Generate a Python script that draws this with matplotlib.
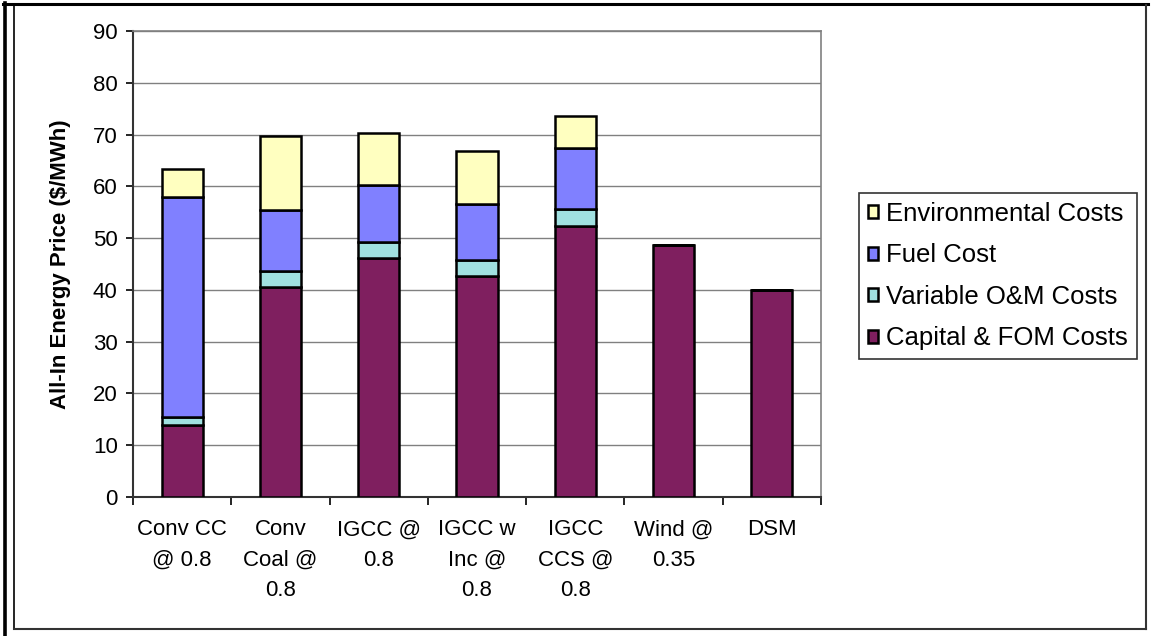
import matplotlib
matplotlib.use("Agg")
import matplotlib.pyplot as plt
from matplotlib.lines import Line2D
import numpy as np

plt.rcParams['font.family'] = ['Liberation Sans', 'DejaVu Sans']

categories = ["Conv CC\n@ 0.8", "Conv\nCoal @\n0.8", "IGCC @\n0.8", "IGCC w\nInc @\n0.8",
              "IGCC\nCCS @\n0.8", "Wind @\n0.35", "DSM"]
capital_fom = [14.0, 40.5, 46.2, 42.6, 52.4, 48.6, 40.0]
variable_om = [1.5, 3.2, 3.1, 3.2, 3.2, 0.0, 0.0]
fuel_cost = [42.5, 11.8, 10.9, 10.8, 11.9, 0.0, 0.0]
environmental = [5.3, 14.2, 10.1, 10.3, 6.0, 0.0, 0.0]

series = [
    ("Capital & FOM Costs", capital_fom, "#7f1f5f"),
    ("Variable O&M Costs", variable_om, "#a0e0e0"),
    ("Fuel Cost", fuel_cost, "#8080ff"),
    ("Environmental Costs", environmental, "#ffffc0"),
]

W, H = 1151, 636
fig = plt.figure(figsize=(W / 100, H / 100), dpi=100)
ax = fig.add_axes([133 / W, 1 - 497 / H, (821 - 133) / W, (497 - 31) / H])

x = np.arange(len(categories))
bottom = np.zeros(len(categories))
handles = []
for name, vals, col in series:
    vals = np.array(vals)
    bars = ax.bar(x, vals, width=0.42, bottom=bottom, color=col,
                  edgecolor="black", linewidth=1.8, label=name, zorder=3)
    handles.append(bars)
    bottom += vals

ax.set_xlim(-0.5, len(categories) - 0.5)
ax.set_ylim(0, 90)
ax.set_yticks(np.arange(0, 91, 10))
ax.tick_params(axis='y', labelsize=16, length=5, width=1.2, direction='out', pad=6)
ax.set_xticks(x)
ax.set_xticklabels(categories, fontsize=16, linespacing=1.6)
ax.tick_params(axis='x', which='major', length=0, pad=16)
ax.set_xticks(np.arange(-0.5, len(categories)), minor=True)
ax.tick_params(axis='x', which='minor', length=6, width=1.2, direction='out')
ax.grid(axis='y', color='#808080', linewidth=1.0, zorder=0)
ax.set_axisbelow(True)

for side in ['top', 'right']:
    ax.spines[side].set_color('#808080')
    ax.spines[side].set_linewidth(1.2)
for side in ['left', 'bottom']:
    ax.spines[side].set_color('#333333')
    ax.spines[side].set_linewidth(1.5)

ax.set_ylabel("All-In Energy Price ($/MWh)", fontsize=16, fontweight='bold', labelpad=16)

leg = fig.legend(handles[::-1], [s[0] for s in series][::-1],
                 loc='upper left', bbox_to_anchor=(859 / W, 1 - 193 / H),
                 borderaxespad=0, fontsize=18.5, frameon=True, fancybox=False,
                 shadow=False, handlelength=0.4, handleheight=0.4,
                 handletextpad=0.3, labelspacing=0.68, borderpad=0.35)
leg.get_frame().set_edgecolor('black')
leg.get_frame().set_linewidth(1.2)

# page cell border and chart area border
def fline(xs, ys, lw, col):
    fig.add_artist(Line2D([v / W for v in xs], [1 - v / H for v in ys],
                          transform=fig.transFigure, color=col, linewidth=lw))

fline([3, 1148], [4, 4], 2.2, 'black')
fline([4.5, 4.5], [3, 636], 2.6, 'black')
fline([13.5, 13.5], [4, 629], 1.2, 'black')
fline([13.5, 1146], [629, 629], 1.5, '#333333')
fline([1146, 1146], [5, 629], 1.5, '#333333')

fig.savefig("out.png", dpi=100, facecolor='white')
